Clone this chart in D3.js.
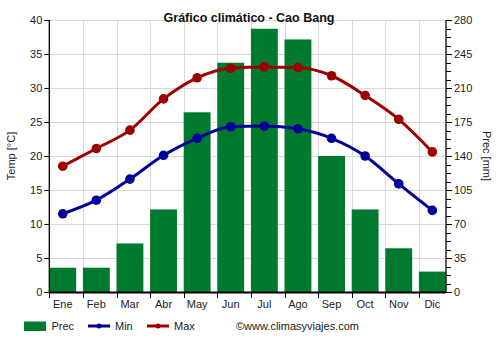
<!DOCTYPE html>
<html><head><meta charset="utf-8">
<script src="https://cdn.jsdelivr.net/npm/d3@7"></script>
<style>body{margin:0;background:#fff}svg{display:block;font-family:"Liberation Sans",Arial,sans-serif}</style>
</head><body><svg id="c" width="500" height="350"></svg>
<script>
const months = ["Ene","Feb","Mar","Abr","May","Jun","Jul","Ago","Sep","Oct","Nov","Dic"];
const prec = [25,25,50,85,185,236,271,260,140,85,45,21];
const tmin = [11.5,13.5,16.6,20.1,22.6,24.3,24.4,24.0,22.6,20.0,15.9,12.0];
const tmax = [18.5,21.1,23.8,28.4,31.5,32.9,33.1,33.0,31.8,28.9,25.4,20.6];
const tempTicks = [0,5,10,15,20,25,30,35,40];
const precTicks = [0,35,70,105,140,175,210,245,280];

const svg = d3.select("#c");
const L = 49.3, R = 446, T = 20, B = 292;
const green = "#007a2f", red = "#9c0000", blue = "#000099";

const x = d3.scaleBand().domain(months).range([L, L + 33.6*12]).paddingInner(0.2).paddingOuter(0.1).align(0);
const yT = d3.scaleLinear().domain([0,40]).range([B,T]);
const yP = d3.scaleLinear().domain([0,280]).range([B,T]);
const cx = m => x(m) + x.bandwidth()/2;

const clip = svg.append("clipPath").attr("id","pc").append("rect")
  .attr("x",L).attr("y",T).attr("width",R-L).attr("height",B-T);

// grid
const g = svg.append("g");
g.selectAll("line.h").data(tempTicks).join("line")
  .attr("x1",L).attr("x2",R).attr("y1",d=>Math.round(yT(d))+0.5).attr("y2",d=>Math.round(yT(d))+0.5)
  .attr("stroke","#d9d9d9").attr("stroke-width",1);
g.selectAll("line.v").data(months.slice(1)).join("line")
  .attr("x1",d=>Math.round(x(d))+0.5).attr("x2",d=>Math.round(x(d))+0.5).attr("y1",T).attr("y2",B)
  .attr("stroke","#d9d9d9").attr("stroke-width",1);

// bars
svg.append("g").attr("clip-path","url(#pc)").selectAll("rect").data(months).join("rect")
  .attr("x",d=>x(d)).attr("width",x.bandwidth())
  .attr("y",(d,i)=>yP(prec[i])).attr("height",(d,i)=>B-yP(prec[i]))
  .attr("fill",green);

// lines
const line = d3.line().x((d,i)=>cx(months[i])).y(d=>yT(d)).curve(d3.curveMonotoneX);
[[tmax,red],[tmin,blue]].forEach(([data,col])=>{
  svg.append("path").datum(data).attr("d",line).attr("fill","none").attr("stroke",col).attr("stroke-width",3);
  svg.append("g").selectAll("circle").data(data).join("circle")
    .attr("cx",(d,i)=>cx(months[i])).attr("cy",d=>yT(d)).attr("r",4.8).attr("fill",col);
});

// axes
const ax = svg.append("g").attr("stroke","#000");
ax.append("line").attr("x1",L).attr("x2",L).attr("y1",T).attr("y2",B+1).attr("stroke-width",1.3);
ax.append("line").attr("x1",R).attr("x2",R).attr("y1",T).attr("y2",B+1).attr("stroke-width",1.3);
ax.append("line").attr("x1",L).attr("x2",R).attr("y1",B+0.5).attr("y2",B+0.5).attr("stroke-width",2);
ax.selectAll("line.lt").data(tempTicks).join("line")
  .attr("x1",L-5).attr("x2",L).attr("y1",d=>Math.round(yT(d))+0.5).attr("y2",d=>Math.round(yT(d))+0.5);
const minor = d3.range(0,280.01,8.75);
ax.selectAll("line.rt").data(minor).join("line")
  .attr("x1",R).attr("x2",d=>R+(d%35===0?6:5)).attr("y1",d=>Math.round(yP(d))+0.5).attr("y2",d=>Math.round(yP(d))+0.5);
ax.selectAll("line.xt").data(months).join("line")
  .attr("x1",d=>Math.round(x(d))+0.5).attr("x2",d=>Math.round(x(d))+0.5).attr("y1",B).attr("y2",B+6);

const txt = svg.append("g").attr("font-size",11).attr("fill","#222");
txt.selectAll("text.l").data(tempTicks).join("text").attr("x",L-7).attr("y",d=>yT(d)+4).attr("text-anchor","end").text(d=>d);
txt.selectAll("text.r").data(precTicks).join("text").attr("x",R+8).attr("y",d=>yP(d)+4).text(d=>d);
txt.selectAll("text.x").data(months).join("text").attr("x",d=>cx(d)).attr("y",308).attr("text-anchor","middle").text(d=>d);
txt.append("text").attr("transform","translate(15,156) rotate(-90)").attr("text-anchor","middle").text("Temp [°C]");
txt.append("text").attr("transform","translate(483,156) rotate(90)").attr("text-anchor","middle").text("Prec [mm]");

svg.append("text").attr("x",249).attr("y",22).attr("text-anchor","middle").attr("font-size",12.5).attr("font-weight","bold").attr("fill","#111").text("Gráfico climático - Cao Bang");

// legend
const lg = svg.append("g").attr("font-size",11).attr("fill","#222");
lg.append("rect").attr("x",24).attr("y",321.5).attr("width",22).attr("height",9.5).attr("fill",green);
lg.append("text").attr("x",51.5).attr("y",330).text("Prec");
[[88,blue,"Min"],[147,red,"Max"]].forEach(([lx,col,lab])=>{
  lg.append("line").attr("x1",lx).attr("x2",lx+22).attr("y1",326).attr("y2",326).attr("stroke",col).attr("stroke-width",3);
  lg.append("circle").attr("cx",lx+11).attr("cy",326).attr("r",2.5).attr("fill",col);
  lg.append("text").attr("x",lx+27).attr("y",330).text(lab);
});
lg.append("text").attr("x",236).attr("y",330).text("©www.climasyviajes.com");
</script></body></html>
